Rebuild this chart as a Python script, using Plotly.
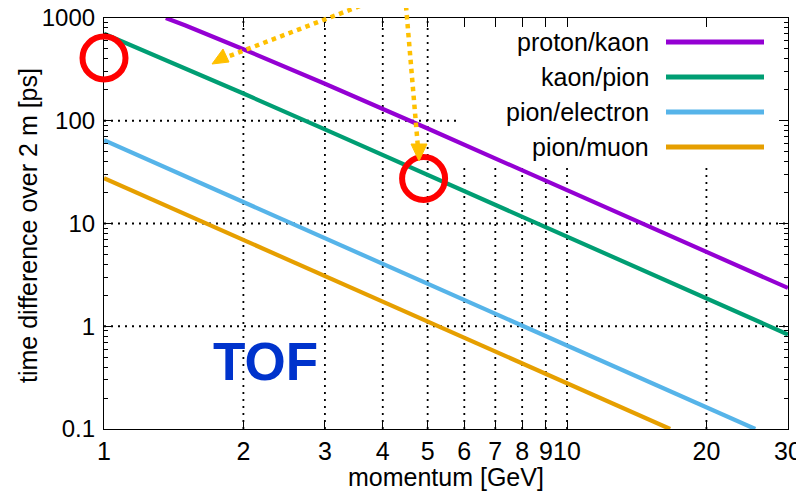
import math
import plotly.graph_objects as go

# ---- data ----
pk_x = [1.36, 1.5, 2, 3, 5, 10, 20, 30]
pk_y = [1000, 846, 497, 229, 84.0, 21.2, 5.30, 2.36]
kpi_x = [1, 1.2, 1.5, 2, 3, 5, 10, 20, 30]
kpi_y = [704, 497, 323, 184, 82.5, 29.8, 7.48, 1.87, 0.831]
pie_x = [1, 2, 3, 5, 10, 20, 25.5]
pie_y = [64.6, 16.2, 7.21, 2.60, 0.650, 0.162, 0.100]
pimu_x = [1, 2, 3, 5, 10, 16.7]
pimu_y = [27.6, 6.93, 3.08, 1.11, 0.277, 0.100]

series_names = ["proton/kaon", "kaon/pion", "pion/electron", "pion/muon"]
series_colors = ["#9400D3", "#009E73", "#56B4E9", "#E69F00"]

x_ticks = [1, 2, 3, 4, 5, 6, 7, 8, 9, 10, 20, 30]
x_ticklabels = ["1", "2", "3", "4", "5", "6", "7", "8", "9", "10", "20", "30"]
y_ticks = [0.1, 1, 10, 100, 1000]
y_ticklabels = ["0.1", "1", "10", "100", "1000"]
y_minor = [m * d for d in [0.1, 1, 10, 100] for m in range(2, 10)]

highlight_points = [(1, 408), (4.9, 27.4)]

X_RANGE = [0, math.log10(30) + 0.0001]
Y_RANGE = [-1, 3]

FONT = "Liberation Sans, Arial, Helvetica, sans-serif"
FS = 25
# page has an 8px body margin; plot area in page pixels: x 104..788, y 18..429
OFF = 8
W, H = 804 - OFF, 491 - OFF
PL, PR, PT, PB = 104, 788, 18, 429
PW, PH = PR - PL, PB - PT


def px(x):
    return (x - PL) / PW


def py(y):
    return (PB - y) / PH


def data_to_paper(x, y):
    return ((math.log10(x) - X_RANGE[0]) / (X_RANGE[1] - X_RANGE[0]),
            (math.log10(y) - Y_RANGE[0]) / (Y_RANGE[1] - Y_RANGE[0]))


fig = go.Figure()
for xs, ys, name, col in zip([pk_x, kpi_x, pie_x, pimu_x], [pk_y, kpi_y, pie_y, pimu_y],
                             series_names, series_colors):
    fig.add_trace(go.Scatter(x=xs, y=ys, mode="lines", name=name,
                             line=dict(color=col, width=4.2), showlegend=False))

shapes = []
annotations = []

# dotted grid drawn as shapes (below traces) so the key box can mask it
GRID = dict(color="black", width=1.8, dash="2px,5px")
for xv in x_ticks[1:-1]:
    shapes.append(dict(type="line", xref="x", yref="paper", x0=xv, x1=xv, y0=0, y1=1,
                       line=GRID, layer="below"))
for yv in y_ticks[1:-1]:
    shapes.append(dict(type="line", xref="paper", yref="y", x0=0, x1=1, y0=yv, y1=yv,
                       line=GRID, layer="below"))

# white key box masking the grid
shapes.append(dict(type="rect", xref="paper", yref="paper", x0=px(459), x1=px(787),
                   y0=py(164), y1=py(19), fillcolor="white", line=dict(width=0),
                   layer="below"))

# legend (text right aligned, sample on the right)
rows = [42, 77, 112, 147]
for name, col, ry in zip(series_names, series_colors, rows):
    annotations.append(dict(xref="paper", yref="paper", x=px(651), y=py(ry), text=name,
                            showarrow=False, xanchor="right", yanchor="middle",
                            font=dict(family=FONT, size=FS, color="black")))
    shapes.append(dict(type="line", xref="paper", yref="paper", x0=px(666), x1=px(764),
                       y0=py(ry), y1=py(ry), line=dict(color=col, width=5)))

# red circles
R_CIRC = 21.5
for cx, cy in highlight_points:
    ux, uy = data_to_paper(cx, cy)
    shapes.append(dict(type="circle", xref="paper", yref="paper",
                       x0=ux - R_CIRC / PW, x1=ux + R_CIRC / PW,
                       y0=uy - R_CIRC / PH, y1=uy + R_CIRC / PH,
                       line=dict(color="#FF0000", width=6)))

# orange dotted arrows
arrow_col = "#FFC000"
arrows = [((360, 6), (219, 60)), ((406, 6), (418, 148))]
for (x0, y0), (x1, y1) in arrows:
    shapes.append(dict(type="line", xref="paper", yref="paper", x0=px(x0), y0=py(y0),
                       x1=px(x1), y1=py(y1), line=dict(color=arrow_col, width=4.5, dash="dot")))
heads = [[(212, 64), (223, 49), (229, 62)], [(419, 161), (411, 144), (427, 144)]]
for tri in heads:
    path = "M {} {} L {} {} L {} {} Z".format(*[v for p in tri for v in (px(p[0]), py(p[1]))])
    shapes.append(dict(type="path", xref="paper", yref="paper", path=path,
                       fillcolor=arrow_col, line=dict(color=arrow_col, width=1)))

# TOF label
annotations.append(dict(xref="paper", yref="paper", x=px(265), y=py(361), text="<b>TOF</b>",
                        showarrow=False, xanchor="center", yanchor="middle",
                        font=dict(family=FONT, size=53, color="#0033CC")))

# axis titles
annotations.append(dict(xref="paper", yref="paper", x=px(446), y=py(477),
                        text="momentum [GeV]", showarrow=False, xanchor="center",
                        yanchor="middle", font=dict(family=FONT, size=FS, color="black")))
annotations.append(dict(xref="paper", yref="paper", x=px(28), y=py(226),
                        text="time difference over 2 m [ps]", showarrow=False,
                        textangle=-90, xanchor="center", yanchor="middle",
                        font=dict(family=FONT, size=FS, color="black")))

axis_common = dict(type="log", showline=True, linecolor="black", linewidth=1.2,
                   mirror="allticks", ticks="inside", tickcolor="black", ticklen=9,
                   tickwidth=1.2, showgrid=False, zeroline=False, tickangle=0)

fig.update_layout(
    width=W, height=H,
    margin=dict(l=PL - OFF, r=804 - PR, t=PT - OFF, b=491 - PB, pad=0, autoexpand=False),
    paper_bgcolor="white", plot_bgcolor="white",
    shapes=shapes, annotations=annotations, showlegend=False,
    xaxis=dict(**axis_common, range=X_RANGE, tickmode="array", tickvals=x_ticks,
               ticktext=x_ticklabels, ticklabelstandoff=0,
               tickfont=dict(family=FONT, size=FS, color="black")),
    yaxis=dict(**axis_common, range=Y_RANGE, tickmode="array", tickvals=y_ticks,
               ticktext=y_ticklabels, ticklabelstandoff=3,
               tickfont=dict(family=FONT, size=24, color="black"),
               minor=dict(tickmode="array", tickvals=y_minor, ticks="inside", ticklen=4,
                          tickcolor="black", showgrid=False)),
)

fig.write_html("out.html")
